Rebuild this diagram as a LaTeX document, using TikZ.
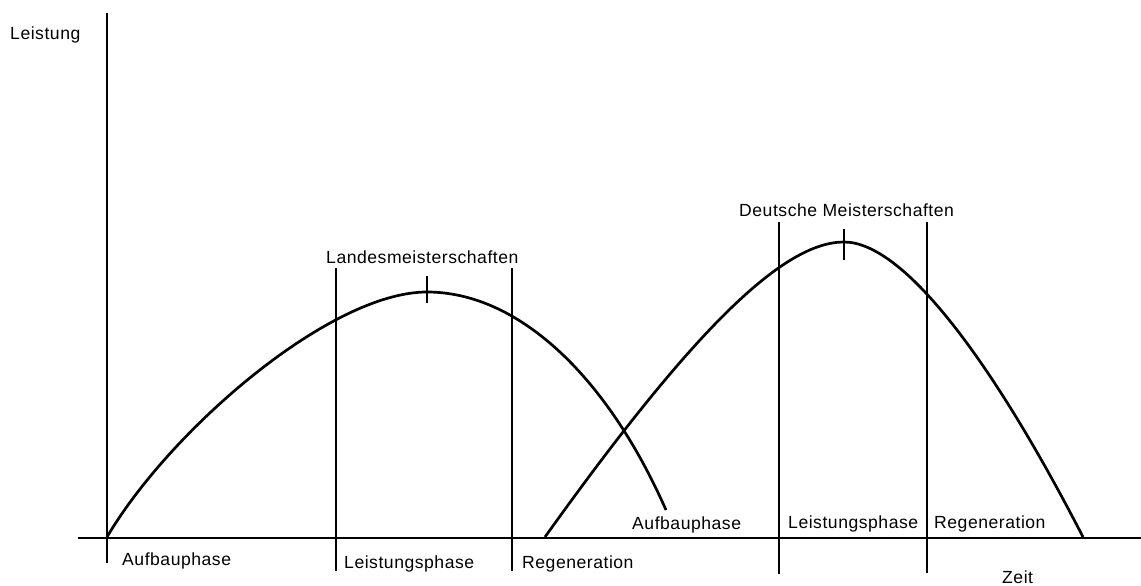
\documentclass[tikz,border=0pt]{standalone}
\usepackage{fontspec}
\setmainfont[LetterSpace=3]{Liberation Sans}

\begin{document}
\begin{tikzpicture}[x=0.03cm,y=-0.03cm,
		axis/.style={line width=2.5pt},
		curve/.style={line width=2.3pt,line join=round},
		phase/.style={line width=0.9pt},
		lbl/.style={anchor=base west,inner sep=0pt,font=\fontsize{15}{18}\selectfont}]
	
	\useasboundingbox (0,0) rectangle (1141,586);
	
	% axes
	\draw[axis] (78,538) -- (1141,538);
	\draw[axis] (107,13) -- (107,563);
	\node[lbl] (yl) at (10,39) {Leistung};
	\node[lbl] (xl) at (1002,583) {Zeit};
	
	% first season (Landesmeisterschaften)
	\coordinate (s1) at (107,537);
	\coordinate (p1) at (427,292);
	\coordinate (e1) at (666,510);
	\draw[curve] (s1) .. controls (170,430) and (330,292) .. (p1)
		.. controls (517,292) and (606,374) .. (e1);
	\draw[phase] (336,268) -- (336,571);
	\draw[phase] (512,268) -- (512,571);
	\draw[phase] (427,276) -- (427,303);
	\node[lbl] (lm) at (326,263) {Landesmeisterschaften};
	\node[lbl] (a1) at (122,565) {Aufbauphase};
	\node[lbl] (l1) at (344,568) {Leistungsphase};
	\node[lbl] (r1) at (522,568) {Regeneration};
	
	% second season (Deutsche Meisterschaften)
	\coordinate (s2) at (545,537);
	\coordinate (p2) at (844,242);
	\coordinate (e2) at (1083,537);
	\draw[curve] (s2) .. controls (695,327) and (784,242) .. (p2)
		.. controls (904,242) and (993,362) .. (e2);
	\draw[phase] (779,222) -- (779,574);
	\draw[phase] (927,222) -- (927,573);
	\draw[phase] (844,229) -- (844,260);
	\node[lbl] (dm) at (739,216) {Deutsche Meisterschaften};
	\node[lbl] (a2) at (632,529) {Aufbauphase};
	\node[lbl] (l2) at (788,528) {Leistungsphase};
	\node[lbl] (r2) at (934,528) {Regeneration};
	
\end{tikzpicture}
\end{document}
